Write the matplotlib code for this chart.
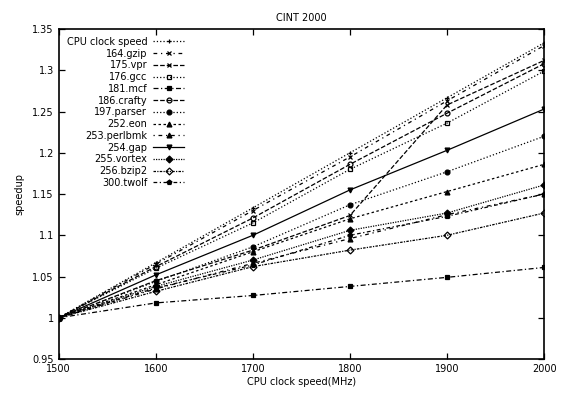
import matplotlib
matplotlib.use("Agg")
import matplotlib.pyplot as plt

# Data
clock = [1500, 1600, 1700, 1800, 1900, 2000]

cpu_clock = [1.0, 1.0667, 1.1333, 1.2, 1.2667, 1.3333]
gzip = [1.0, 1.065, 1.130, 1.195, 1.263, 1.330]
vpr = [1.0, 1.045, 1.082, 1.124, 1.258, 1.312]
gcc = [1.0, 1.060, 1.115, 1.180, 1.236, 1.299]
mcf = [1.0, 1.018, 1.027, 1.038, 1.049, 1.061]
crafty = [1.0, 1.062, 1.121, 1.186, 1.248, 1.308]
parser = [1.0, 1.044, 1.086, 1.137, 1.177, 1.220]
eon = [1.0, 1.040, 1.080, 1.120, 1.153, 1.186]
perlbmk = [1.0, 1.035, 1.066, 1.096, 1.125, 1.150]
gap = [1.0, 1.052, 1.100, 1.155, 1.203, 1.253]
vortex = [1.0, 1.038, 1.070, 1.106, 1.127, 1.161]
bzip2 = [1.0, 1.032, 1.062, 1.082, 1.100, 1.127]
twolf = [1.0, 1.036, 1.064, 1.100, 1.123, 1.150]

series = [
    ("CPU clock speed", cpu_clock, ":", "+", "k"),
    ("164.gzip", gzip, (0, (3, 3, 1, 3)), "x", "k"),
    ("175.vpr", vpr, "--", "x", "k"),
    ("176.gcc", gcc, ":", "s", "none"),
    ("181.mcf", mcf, (0, (4, 2, 1, 2)), "s", "k"),
    ("186.crafty", crafty, "--", "o", "none"),
    ("197.parser", parser, ":", "o", "k"),
    ("252.eon", eon, (0, (2, 2)), "^", "k"),
    ("253.perlbmk", perlbmk, (0, (1, 3, 3, 3)), "^", "k"),
    ("254.gap", gap, "-", "v", "k"),
    ("255.vortex", vortex, (0, (1, 1)), "D", "k"),
    ("256.bzip2", bzip2, (0, (2, 1, 1, 1)), "D", "none"),
    ("300.twolf", twolf, (0, (3, 2, 1, 2)), "p", "k"),
]

plt.rcParams["font.family"] = "DejaVu Sans"
plt.rcParams["font.size"] = 7

fig = plt.figure(figsize=(5.65, 3.93), dpi=100)
ax = fig.add_axes([0.104, 0.0865, 0.859, 0.8395])

for name, vals, ls, mk, fc in series:
    ax.plot(clock, vals, linestyle=ls, marker=mk, color="k", linewidth=0.9,
            markersize=3.5, markerfacecolor=fc, markeredgewidth=0.9, label=name)

ax.set_xlim(1500, 2000)
ax.set_ylim(0.95, 1.35)
ax.set_xticks(clock)
ax.set_yticks([0.95, 1, 1.05, 1.1, 1.15, 1.2, 1.25, 1.3, 1.35])
ax.set_yticklabels(["0.95", "1", "1.05", "1.1", "1.15", "1.2", "1.25", "1.3", "1.35"])
ax.tick_params(direction="in", top=True, right=True, length=4, width=0.9, labelsize=7)
for s in ax.spines.values():
    s.set_linewidth(1.2)

ax.set_title("CINT 2000", fontsize=7, pad=6)
ax.set_xlabel("CPU clock speed(MHz)", fontsize=7, labelpad=2)
ax.set_ylabel("speedup", fontsize=7, labelpad=6)

ax.legend(loc="upper left", bbox_to_anchor=(0.0, 1.0), frameon=False,
          markerfirst=False, handlelength=3.2, labelspacing=0.18,
          handletextpad=0.6, borderaxespad=0.4, fontsize=7)

fig.savefig("out.png", dpi=100)
